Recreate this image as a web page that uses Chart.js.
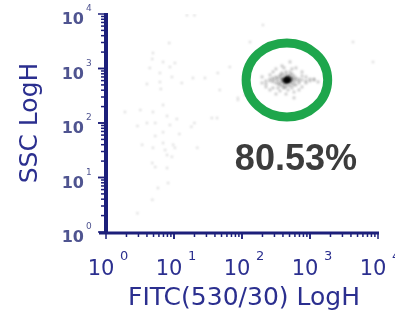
<!DOCTYPE html>
<html>
<head>
<meta charset="utf-8">
<script src="https://cdn.jsdelivr.net/npm/chart.js@4"></script>
<style>
  html, body { margin: 0; padding: 0; background: #ffffff; }
  #wrap { width: 395px; height: 322px; position: relative; }
</style>
</head>
<body>
<div id="wrap"><canvas id="c" width="395" height="322"></canvas></div>
<script>
// ---- Data ----
const xTickLabels = ['10', '10', '10', '10', '10'];
const xTickExps = ['0', '1', '2', '3', '4'];
const yTickLabels = ['10', '10', '10', '10', '10'];
const yTickExps = ['0', '1', '2', '3', '4'];
const xTickValues = [1, 10, 100, 1000, 10000];
const yTickValues = [1, 10, 100, 1000, 10000];
const xTitle = 'FITC(530/30) LogH';
const yTitle = 'SSC LogH';
const gateLabel = '80.53%';
const gateX = [115, 1820];   // FITC extent of the gate
const gateY = [129, 2950];   // SSC extent of the gate

// sparse background events (FITC, SSC)
const bgX = [15.5, 20, 8.5, 4.9, 4.8, 6.9, 10.3, 8.7, 4.4, 66, 6.2, 9.3, 19, 28.5, 44, 4.0, 6.2, 13, 6.4, 47, 87, 6.9, 1.9, 3.2, 4.9, 7.9, 11, 36, 43, 2.9, 4.0, 5.3, 8.7, 18, 20, 6.9, 12, 5.3, 3.4, 6.9, 9.7, 4.9, 7.4, 10.3, 22, 7.9, 9.3, 4.8, 5.3, 7.9, 8.2, 5.8, 4.8, 2.9, 4290, 8440, 203, 87, 110, 131];
const bgY = [9500, 9500, 2950, 1920, 1490, 1320, 1260, 1070, 1020, 1070, 830, 700, 670, 670, 830, 520, 565, 540, 420, 405, 290, 214, 160, 174, 160, 135, 118, 123, 123, 88, 100, 100, 92, 85, 100, 68, 63, 58, 40, 43, 40, 35, 32, 35, 35, 26, 24, 18.5, 15.6, 15, 7.9, 6.4, 3.9, 2.2, 3070, 1316, 6300, 264, 325, 3070];

// gated population, outer events (FITC, SSC)
const popX = [338, 362, 316, 387, 415, 508, 543, 582, 622, 582, 543, 475, 415, 362, 338, 387, 286, 316, 444, 491, 622, 689, 362, 415, 508, 582, 444, 387, 543, 316, 286, 258, 338, 689, 763, 258, 582, 415, 475, 362, 508, 338, 622, 543, 444, 387, 286, 689,
  197, 225, 258, 286, 316, 415, 543, 763, 873, 1000, 1145, 1312, 873, 763, 689, 582, 444, 362, 286, 225, 197, 258, 873, 1145, 763, 622, 387, 508, 225, 582, 316, 1000];
const popY = [670, 698, 641, 760, 728, 760, 698, 641, 615, 565, 520, 498, 520, 542, 590, 565, 615, 698, 793, 728, 670, 590, 498, 458, 478, 498, 862, 827, 793, 542, 670, 641, 520, 641, 615, 590, 728, 439, 403, 760, 862, 439, 498, 439, 458, 478, 565, 542,
  698, 590, 760, 862, 979, 1021, 979, 862, 698, 641, 615, 565, 542, 458, 403, 370, 340, 387, 439, 520, 542, 403, 590, 641, 728, 1021, 1111, 1316, 458, 288, 340, 590];

// dense core of the gated population (FITC, SSC)
const coreX = [459, 444, 475, 429, 491, 459, 444, 475, 415, 508, 459, 444, 475, 429, 491, 415, 508, 401, 526, 459, 444, 475, 543, 387, 459, 475, 444, 491, 429, 508,
  452, 466, 437, 482, 452, 466, 459, 452, 466, 437, 482, 459];
const coreY = [615, 641, 590, 615, 641, 590, 590, 641, 641, 615, 641, 615, 615, 590, 590, 590, 641, 615, 590, 698, 542, 698, 641, 641, 565, 670, 670, 565, 565, 670,
  603, 628, 603, 628, 628, 603, 615, 615, 615, 628, 603, 603];

const toPts = (xs, ys) => xs.map((v, i) => ({ x: v, y: ys[i] }));

const NAVY = '#2b2f8f';
const AXIS = '#1c1f7a';

const decor = {
  id: 'decor',
  beforeDatasetsDraw(chart) {
    chart.ctx.save();
    chart.ctx.filter = 'blur(0.8px)';
  },
  afterDatasetsDraw(chart) {
    const ctx = chart.ctx;
    ctx.restore();
    const xs = chart.scales.x, ys = chart.scales.y;
    // gate ellipse
    const l = xs.getPixelForValue(gateX[0]), r = xs.getPixelForValue(gateX[1]);
    const t = ys.getPixelForValue(gateY[1]), b = ys.getPixelForValue(gateY[0]);
    ctx.save();
    ctx.beginPath();
    ctx.ellipse((l + r) / 2, (t + b) / 2, (r - l) / 2, (b - t) / 2, 0, 0, Math.PI * 2);
    ctx.strokeStyle = '#1ea64c';
    ctx.lineWidth = 9;
    ctx.stroke();
    ctx.restore();
  },
  afterDraw(chart) {
    const ctx = chart.ctx;
    const xs = chart.scales.x, ys = chart.scales.y;
    const ca = chart.chartArea;
    ctx.save();
    // minor / major ticks
    ctx.strokeStyle = AXIS;
    ctx.lineWidth = 1.5;
    for (let k = 0; k < 4; k++) {
      for (let m = 1; m <= 10; m++) {
        const v = m * Math.pow(10, k);
        const major = (m === 1 || m === 10);
        const py = ys.getPixelForValue(v);
        ctx.beginPath();
        ctx.moveTo(ca.left, py);
        ctx.lineTo(ca.left - (major ? 8 : 5), py);
        ctx.stroke();
        const px = xs.getPixelForValue(v);
        ctx.beginPath();
        ctx.moveTo(px, ca.bottom);
        ctx.lineTo(px, ca.bottom + (major ? 7 : 5));
        ctx.stroke();
      }
    }
    // axis lines
    ctx.lineWidth = 4;
    ctx.beginPath();
    ctx.moveTo(ca.left, ca.top - 1);
    ctx.lineTo(ca.left, ca.bottom + 2);
    ctx.stroke();
    ctx.lineWidth = 3;
    ctx.beginPath();
    ctx.moveTo(ca.left - 7, ca.bottom + 1);
    ctx.lineTo(ca.right + 1, ca.bottom + 1);
    ctx.stroke();

    // y tick labels
    ctx.fillStyle = '#4f5490';
    ctx.textBaseline = 'middle';
    yTickValues.forEach((v, i) => {
      const py = ys.getPixelForValue(v);
      ctx.font = 'bold 16px "DejaVu Sans"';
      ctx.textAlign = 'right';
      ctx.fillText(yTickLabels[i], 84, py + 6);
      ctx.font = '9px "DejaVu Sans"';
      ctx.textAlign = 'left';
      ctx.fillText(yTickExps[i], 86, py - 5);
    });
    // x tick labels
    ctx.fillStyle = NAVY;
    xTickValues.forEach((v, i) => {
      const px = xs.getPixelForValue(v);
      ctx.font = '21px "DejaVu Sans"';
      ctx.textAlign = 'center';
      ctx.fillText(xTickLabels[i], px - 5, 270);
      ctx.font = '13px "DejaVu Sans"';
      ctx.textAlign = 'left';
      ctx.fillText(xTickExps[i], px + 14, 257);
    });
    // axis titles
    ctx.font = '25px "DejaVu Sans"';
    ctx.textAlign = 'center';
    ctx.fillText(xTitle, (ca.left + ca.right) / 2 + 2, 298);
    ctx.save();
    ctx.translate(30, 123);
    ctx.rotate(-Math.PI / 2);
    ctx.font = '25px "DejaVu Sans"';
    ctx.fillText(yTitle, 0, 0);
    ctx.restore();

    // gate percentage
    const gx = (xs.getPixelForValue(gateX[0]) + xs.getPixelForValue(gateX[1])) / 2;
    ctx.save();
    ctx.fillStyle = '#3c3c3c';
    ctx.font = 'bold 36px "Liberation Sans"';
    ctx.textAlign = 'center';
    ctx.textBaseline = 'middle';
    ctx.fillText(gateLabel, gx + 9, 160);
    ctx.restore();
    ctx.restore();
  }
};

new Chart(document.getElementById('c'), {
  type: 'scatter',
  data: {
    datasets: [
      { data: toPts(bgX, bgY), pointRadius: 1, pointBorderWidth: 0, backgroundColor: 'rgba(140,140,140,0.5)' },
      { data: toPts(popX, popY), pointRadius: 1.4, pointBorderWidth: 0, backgroundColor: 'rgba(60,60,60,0.35)' },
      { data: toPts(coreX, coreY), pointRadius: 1.8, pointBorderWidth: 0, backgroundColor: 'rgba(0,0,0,0.4)' }
    ]
  },
  options: {
    responsive: false,
    animation: false,
    layout: { padding: { left: 106, right: 17, top: 14, bottom: 90 } },
    plugins: { legend: { display: false }, tooltip: { enabled: false } },
    scales: {
      x: { type: 'logarithmic', min: 1, max: 10000, display: false },
      y: { type: 'logarithmic', min: 1, max: 10000, display: false }
    }
  },
  plugins: [decor]
});
</script>
</body>
</html>
